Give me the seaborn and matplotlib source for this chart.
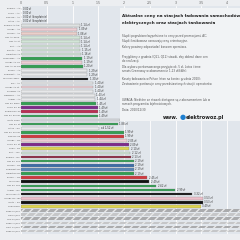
import pandas as pd
import seaborn as sns
import matplotlib.pyplot as plt
from matplotlib.patches import Rectangle

# operators / charging stations (top -> bottom), price in zl per kWh
operators = [
    "Energa – AC", "Orlen – AC", "PGE NE – AC", "Lotos – AC",
    "Energa AC tar.", "innogy – AC", "Tauron – AC", "GW AC abon.",
    "GW AC st.", "EV+ – AC", "Elocity – AC", "Galactico AC",
    "GreenWay – AC", "innogy AC 22", "GW AC 22 kW", "Ekoen – AC",
    "Powerdot – AC", "Tesla DC abon.", "Elo – AC", "innogy AC st.",
    "Plugsurf. AC", "NewMob. – AC", "Allego – AC", "GW DC abon.",
    "Orlen DC 50", "Energa DC 50", "GW DC 50 kW", "Ionity abon.",
    "GW DC st.", "Lotos – DC", "GW DC 40 kW", "PGE DC 50",
    "innogy – DC", "Orlen DC st.", "Shell – DC", "EV+ – DC",
    "Energa – DC", "GW DC 100", "Tauron – DC", "Powerdot DC",
    "Galactico DC", "Ekoen. – DC", "Tesla SuC", "GW DC 150",
    "Allego – DC", "Tesla SuC st.", "innogy DC 150", "Ionity – DC",
    "Shell Rech.",
    "Pb95 6 l/100", "ON 5 l/100", "LPG 8 l/100",
    "Pb98 7 l/100", "ON+ 6 l/100", "Pb95 8 l/100",
]

prices = [
    0.00, 0.00, 0.00, 0.00,
    1.14, 1.09, 1.08, 1.14,
    1.14, 1.14, 1.15, 1.16,
    1.19, 1.19, 1.20, 1.29,
    1.29, 1.30, 1.40, 1.40,
    1.40, 1.43, 1.44, 1.45,
    1.49, 1.49, 1.49, 1.93,
    1.88, 1.52, 1.99, 1.99,
    2.05, 2.09, 2.10, 2.12,
    2.13, 2.19, 2.19, 2.19,
    2.19, 2.45, 2.49, 2.62,
    2.99, 3.32, 3.53, 3.53,
    3.49,
    4.60, 4.70, 4.80, 4.90, 5.00, 5.10,
]

value_labels = [
    "0,00 zł", "0,00 zł", "0,00 zł (bezpłatnie)", "0,00 zł (bezpłatnie)",
    "1,14 zł", "1,09 zł", "1,08 zł", "1,14 zł",
    "1,14 zł", "1,14 zł", "1,15 zł", "1,16 zł",
    "1,19 zł", "1,19 zł", "1,20 zł", "1,29 zł",
    "1,29 zł", "1,30 zł", "1,40 zł", "1,40 zł",
    "1,40 zł", "1,43 zł", "1,44 zł", "1,45 zł",
    "1,49 zł", "1,49 zł", "1,49 zł", "1,93 zł",
    "1,88 zł", "od 1,52 zł", "1,99 zł", "1,99 zł",
    "2,05 zł", "2,09 zł", "2,10 zł", "2,12 zł",
    "2,13 zł", "2,19 zł", "2,19 zł", "2,19 zł",
    "2,19 zł", "2,45 zł", "2,49 zł", "2,62 zł",
    "2,99 zł", "3,32 zł", "3,53 zł", "3,53 zł",
    "3,49 zł",
    "", "", "", "", "", "",
]

colors = [
    "#e4e8ec", "#e4e8ec", "#e4e8ec", "#e4e8ec",
    "#dde3e3", "#f2c9d0", "#f0cbc4", "#cfe8d6",
    "#cfe8d6", "#cfe8d6", "#cfe8d6", "#cfe8d6",
    "#22b14c", "#f2c9d0", "#22b14c", "#e6e8ea",
    "#e6e8ea", "#111111", "#e6e8ea", "#f2c9d0",
    "#e6e8ea", "#e6e8ea", "#e6e8ea", "#22b14c",
    "#8b1a9b", "#d01848", "#22b14c", "#d8dde3",
    "#22b14c", "#e6e8ea", "#22b14c", "#e8202a",
    "#f2c9d0", "#8b1a9b", "#f5ea3a", "#cfe8d6",
    "#a01c3c", "#22b14c", "#2b6cb8", "#4a86c5",
    "#22b14c", "#e8202a", "#111111", "#22b14c",
    "#22b14c", "#111111", "#f4b8c8", "#111111",
    "#f5ea3a",
    "#a9abad", "#c4c6c8", "#a9abad", "#c4c6c8", "#a9abad", "#c4c6c8",
]

tick_values = [0, 0.5, 1, 1.5, 2, 2.5, 3, 3.5, 4]
tick_labels = ["0", "0,5", "1", "1,5", "2", "2,5", "3", "3,5", "4"]

panel_title = ["Aktualne ceny na stacjach ładowania samochodów",
               "elektrycznych oraz stacjach tankowania"]
panel_lines = [
    (0.850, "Słupki pogrubione/wypełnione to ceny przed promocjami, AC;"),
    (0.830, "Słupki kratkowane oznaczają ceny orientacyjne."),
    (0.806, "Kolory powinny odpowiadać barwom operatora."),
    (0.762, "Przyjęliśmy z grudnia (Q11, Q12) stawki, aby dobrać dane cen"),
    (0.745, "do realizacji."),
    (0.720, "Dla wyboru porównawczego przyjęto ok. 5 zł, Lotos i inne"),
    (0.703, "serwis Greenway w abonamencie 1,13 zł/kWh)."),
    (0.670, "Koszty ładowania w Polsce (stan na koniec grudnia 2020):"),
    (0.652, "Zestawienie porównuje ceny przedstawionych stacji i operatorów"),
    (0.585, "UWAGA: Niektóre ze stawek dostępne są z abonamentem lub w"),
    (0.568, "ramach programów lojalnościowych."),
    (0.540, "Data: 2020/12/30"),
]

sns.set_theme(style="whitegrid")
plt.rcParams['font.family'] = ['DejaVu Sans']

fig = plt.figure(figsize=(2.4, 2.4), dpi=100, facecolor="#eceef1")
ax = fig.add_axes([21 / 240, 6 / 240, 219 / 240, 228 / 240])

df = pd.DataFrame({"operator": operators, "price": prices})
sns.barplot(data=df, y="operator", x="price", hue="operator",
            palette=dict(zip(operators, colors)), legend=False,
            width=0.64, edgecolor="#777777", linewidth=0.2, ax=ax)

# hatched (estimated) rows at the bottom
for i, cont in enumerate(ax.containers):
    if i >= 49:
        for bar in cont:
            bar.set_hatch("////")
            bar.set_edgecolor("#e8e8e8")
            bar.set_linewidth(0)

for i, (p, lab) in enumerate(zip(prices, value_labels)):
    if lab:
        ax.text(p + 0.03, i, lab, fontsize=1.8, va="center", color="#333333")

ax.set_facecolor("#e1e6ec")
ax.set_xlim(0, 4.25)
ax.set_ylim(len(operators) - 0.3, -0.7)
ax.xaxis.tick_top()
ax.set_xticks(tick_values)
ax.set_xticklabels(tick_labels)
ax.tick_params(axis="x", labelsize=2.3, colors="#666666", length=0, pad=0.8)
ax.tick_params(axis="y", labelsize=1.6, colors="#555555", length=0, pad=0.6)
ax.grid(axis="x", color="white", linewidth=0.6)
ax.grid(axis="y", visible=False)
ax.set_xlabel("")
ax.set_ylabel("")
for s in ax.spines.values():
    s.set_visible(False)

# info panel on the right
fig.add_artist(Rectangle((120 / 240, 1 - 121 / 240), 120 / 240, 113 / 240,
                         transform=fig.transFigure, facecolor="#f1f3f5",
                         edgecolor="none", zorder=3))
fig.text(122 / 240, 1 - 16 / 240, panel_title[0], fontsize=3.0, fontweight="bold",
         color="#222222", va="center", zorder=4)
fig.text(122 / 240, 1 - 23 / 240, panel_title[1], fontsize=3.0, fontweight="bold",
         color="#222222", va="center", zorder=4)
for y, t in panel_lines:
    fig.text(122 / 240, y, t, fontsize=2.0, color="#555555", va="center", zorder=4)
fig.text(178 / 240, 1 - 117 / 240, "www.", fontsize=3.6, fontweight="bold",
         color="#222222", va="center", ha="right", zorder=4)
fig.text(180 / 240, 1 - 117 / 240, "\u25CF", fontsize=5, color="#1e7fd0",
         va="center", zorder=4)
fig.text(186 / 240, 1 - 117 / 240, "elektrowoz.pl", fontsize=3.6, fontweight="bold",
         color="#222222", va="center", zorder=4)

fig.savefig("out.png", dpi=100, facecolor=fig.get_facecolor())
